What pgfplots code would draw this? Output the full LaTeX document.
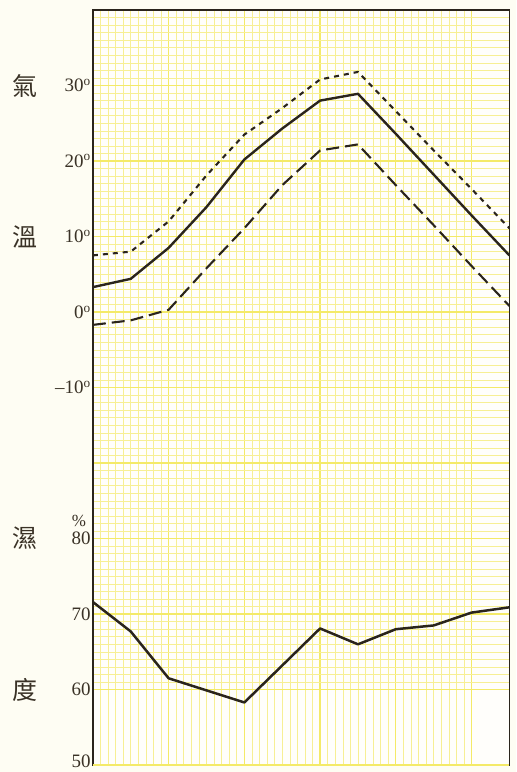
\documentclass[border=0pt]{standalone}
\usepackage{pgfplots}
\pgfplotsset{compat=1.18}
\usepackage{pgfplotstable}
\usepackage{fontspec}
\setmainfont{Liberation Serif}
\newfontfamily\cjk{Noto Sans CJK TC}
\usetikzlibrary{backgrounds}

\definecolor{paper}{HTML}{FEFDF3}
\definecolor{gridmaj}{HTML}{F4EA68}
\definecolor{gridmin}{HTML}{F7EF94}
\definecolor{ink}{HTML}{2A241C}
\definecolor{txt}{HTML}{3A3226}

% monthly temperature: mean, max, min (deg)
\pgfplotstableread{
m  mean  max   min
1  3.3   7.5  -1.7
2  4.4   8.0  -1.1
3  8.5  12.0   0.3
4  13.9 18.1   5.8
5  20.2 23.5  11.1
6  24.3 27.0  16.8
7  28.0 30.8  21.4
8  28.9 31.8  22.2
9  23.6 26.6  16.8
10 18.2 21.4  11.5
11 12.8 16.3   6.1
12 7.5  11.1   0.8
}\temp

% relative humidity (%)
\pgfplotstableread{
m  h
1  71.6
2  67.7
3  61.5
4  59.9
5  58.3
6  63.2
7  68.1
8  66.0
9  68.0
10 68.5
11 70.2
12 70.9
}\hum

\begin{document}
\begin{tikzpicture}[inner frame sep=0pt, show background rectangle,
  background rectangle/.style={fill=paper, draw=none}]
\begin{axis}[name=ta,
  scale only axis, width=417pt, height=756pt,
  xmin=1, xmax=12, ymin=-60, ymax=40,
  clip mode=individual,
  xtick={1,3,...,11}, xticklabels={}, minor x tick num=9,
  ytick={-50,-40,...,40},
  yticklabels={60,70,80,,\textendash10\textsuperscript{o},0\textsuperscript{o},10\textsuperscript{o},20\textsuperscript{o},30\textsuperscript{o},},
  extra y ticks={-60}, extra y tick labels={50},
  extra y tick style={yticklabel style={yshift=4pt}},
  minor y tick num=9,
  major tick length=0pt, minor tick length=0pt,
  grid=both,
  major grid style={gridmaj, line width=1.3pt},
  minor grid style={gridmin, line width=0.6pt},
  axis line style={ink, line width=1.7pt},
  yticklabel style={txt, font=\fontsize{19}{22}\selectfont, inner sep=1pt, xshift=-1pt},
  axis background/.style={fill=white!70!paper},
]
\addplot[ink, line width=2.4pt, line join=round] table[x=m, y=mean]{\temp};
\addplot[ink, line width=2.1pt, dash pattern=on 5pt off 5pt] table[x=m, y=max]{\temp};
\addplot[ink, line width=2.1pt, dash pattern=on 13pt off 6pt] table[x=m, y=min]{\temp};

\node[txt, font=\cjk\fontsize{25}{25}\selectfont] at ([xshift=-68pt]axis cs:1,30) {氣};
\node[txt, font=\cjk\fontsize{25}{25}\selectfont] at ([xshift=-68pt]axis cs:1,10) {溫};
\node[txt, font=\cjk\fontsize{25}{25}\selectfont] at ([xshift=-68pt]axis cs:1,-30) {濕};
\node[txt, font=\cjk\fontsize{25}{25}\selectfont] at ([xshift=-68pt]axis cs:1,-50) {度};
\node[txt, font=\fontsize{17}{17}\selectfont] at ([xshift=-14pt, yshift=18pt]axis cs:1,-30) {\%};
\end{axis}

\begin{axis}[at={(ta.south west)}, anchor=south west,
  scale only axis, width=417pt, height=756pt,
  xmin=1, xmax=12, ymin=50, ymax=150, hide axis]
\addplot[ink, line width=2.5pt, line join=round] table[x=m, y=h]{\hum};
\end{axis}

\path ([xshift=-93pt, yshift=-6pt]ta.south west) rectangle ([xshift=7pt, yshift=10pt]ta.north east);
\end{tikzpicture}
\end{document}
